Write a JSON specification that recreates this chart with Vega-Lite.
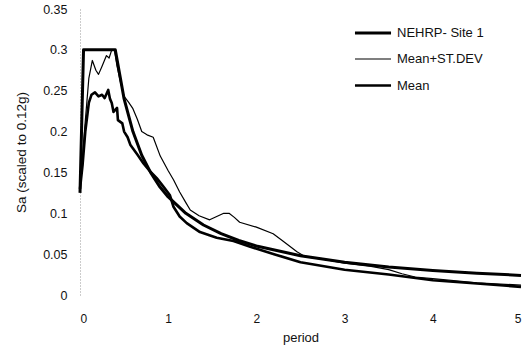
{
  "$schema": "https://vega.github.io/schema/vega-lite/v6.json",
  "width": 441,
  "height": 286,
  "autosize": "none",
  "padding": {"left": 80, "top": 9, "right": 5, "bottom": 56},
  "background": "white",
  "config": {
    "view": {"stroke": null},
    "font": "Liberation Sans",
    "axis": {"labelFont": "Liberation Sans", "titleFont": "Liberation Sans", "labelColor": "#111", "titleColor": "#111", "titleFontWeight": "normal", "grid": false, "ticks": false}
  },
  "data": {"values": [
    {"s": "NEHRP- Site 1", "T": 0, "Sa": 0.125},
    {"s": "NEHRP- Site 1", "T": 0.04, "Sa": 0.3},
    {"s": "NEHRP- Site 1", "T": 0.4, "Sa": 0.3},
    {"s": "NEHRP- Site 1", "T": 0.5, "Sa": 0.24},
    {"s": "NEHRP- Site 1", "T": 0.6, "Sa": 0.2},
    {"s": "NEHRP- Site 1", "T": 0.7, "Sa": 0.171},
    {"s": "NEHRP- Site 1", "T": 0.8, "Sa": 0.15},
    {"s": "NEHRP- Site 1", "T": 0.9, "Sa": 0.133},
    {"s": "NEHRP- Site 1", "T": 1.0, "Sa": 0.12},
    {"s": "NEHRP- Site 1", "T": 1.2, "Sa": 0.1},
    {"s": "NEHRP- Site 1", "T": 1.4, "Sa": 0.0857},
    {"s": "NEHRP- Site 1", "T": 1.6, "Sa": 0.075},
    {"s": "NEHRP- Site 1", "T": 1.8, "Sa": 0.0667},
    {"s": "NEHRP- Site 1", "T": 2.0, "Sa": 0.06},
    {"s": "NEHRP- Site 1", "T": 2.5, "Sa": 0.048},
    {"s": "NEHRP- Site 1", "T": 3.0, "Sa": 0.04},
    {"s": "NEHRP- Site 1", "T": 3.5, "Sa": 0.0343},
    {"s": "NEHRP- Site 1", "T": 4.0, "Sa": 0.03},
    {"s": "NEHRP- Site 1", "T": 4.5, "Sa": 0.0267},
    {"s": "NEHRP- Site 1", "T": 5.0, "Sa": 0.024},

    {"s": "Mean+ST.DEV", "T": 0, "Sa": 0.13},
    {"s": "Mean+ST.DEV", "T": 0.05, "Sa": 0.2},
    {"s": "Mean+ST.DEV", "T": 0.1, "Sa": 0.265},
    {"s": "Mean+ST.DEV", "T": 0.14, "Sa": 0.287},
    {"s": "Mean+ST.DEV", "T": 0.18, "Sa": 0.275},
    {"s": "Mean+ST.DEV", "T": 0.21, "Sa": 0.27},
    {"s": "Mean+ST.DEV", "T": 0.25, "Sa": 0.28},
    {"s": "Mean+ST.DEV", "T": 0.3, "Sa": 0.293},
    {"s": "Mean+ST.DEV", "T": 0.33, "Sa": 0.29},
    {"s": "Mean+ST.DEV", "T": 0.36, "Sa": 0.3},
    {"s": "Mean+ST.DEV", "T": 0.39, "Sa": 0.3},
    {"s": "Mean+ST.DEV", "T": 0.42, "Sa": 0.28},
    {"s": "Mean+ST.DEV", "T": 0.46, "Sa": 0.26},
    {"s": "Mean+ST.DEV", "T": 0.5, "Sa": 0.243},
    {"s": "Mean+ST.DEV", "T": 0.55, "Sa": 0.236},
    {"s": "Mean+ST.DEV", "T": 0.6, "Sa": 0.228},
    {"s": "Mean+ST.DEV", "T": 0.65, "Sa": 0.215},
    {"s": "Mean+ST.DEV", "T": 0.7, "Sa": 0.2},
    {"s": "Mean+ST.DEV", "T": 0.76, "Sa": 0.196},
    {"s": "Mean+ST.DEV", "T": 0.83, "Sa": 0.193},
    {"s": "Mean+ST.DEV", "T": 0.91, "Sa": 0.17},
    {"s": "Mean+ST.DEV", "T": 1.0, "Sa": 0.152},
    {"s": "Mean+ST.DEV", "T": 1.06, "Sa": 0.141},
    {"s": "Mean+ST.DEV", "T": 1.13, "Sa": 0.126},
    {"s": "Mean+ST.DEV", "T": 1.2, "Sa": 0.113},
    {"s": "Mean+ST.DEV", "T": 1.25, "Sa": 0.104},
    {"s": "Mean+ST.DEV", "T": 1.35, "Sa": 0.097},
    {"s": "Mean+ST.DEV", "T": 1.47, "Sa": 0.092},
    {"s": "Mean+ST.DEV", "T": 1.55, "Sa": 0.096},
    {"s": "Mean+ST.DEV", "T": 1.63, "Sa": 0.1},
    {"s": "Mean+ST.DEV", "T": 1.69, "Sa": 0.1},
    {"s": "Mean+ST.DEV", "T": 1.75, "Sa": 0.095},
    {"s": "Mean+ST.DEV", "T": 1.81, "Sa": 0.089},
    {"s": "Mean+ST.DEV", "T": 2.0, "Sa": 0.083},
    {"s": "Mean+ST.DEV", "T": 2.19, "Sa": 0.075},
    {"s": "Mean+ST.DEV", "T": 2.3, "Sa": 0.066},
    {"s": "Mean+ST.DEV", "T": 2.46, "Sa": 0.053},
    {"s": "Mean+ST.DEV", "T": 2.55, "Sa": 0.047},
    {"s": "Mean+ST.DEV", "T": 2.8, "Sa": 0.043},
    {"s": "Mean+ST.DEV", "T": 3.0, "Sa": 0.039},
    {"s": "Mean+ST.DEV", "T": 3.3, "Sa": 0.035},
    {"s": "Mean+ST.DEV", "T": 3.5, "Sa": 0.031},
    {"s": "Mean+ST.DEV", "T": 3.65, "Sa": 0.026},
    {"s": "Mean+ST.DEV", "T": 3.8, "Sa": 0.022},
    {"s": "Mean+ST.DEV", "T": 4.0, "Sa": 0.02},
    {"s": "Mean+ST.DEV", "T": 4.5, "Sa": 0.015},
    {"s": "Mean+ST.DEV", "T": 5.0, "Sa": 0.012},

    {"s": "Mean", "T": 0, "Sa": 0.13},
    {"s": "Mean", "T": 0.03, "Sa": 0.16},
    {"s": "Mean", "T": 0.06, "Sa": 0.2},
    {"s": "Mean", "T": 0.1, "Sa": 0.235},
    {"s": "Mean", "T": 0.13, "Sa": 0.245},
    {"s": "Mean", "T": 0.17, "Sa": 0.248},
    {"s": "Mean", "T": 0.21, "Sa": 0.243},
    {"s": "Mean", "T": 0.25, "Sa": 0.245},
    {"s": "Mean", "T": 0.28, "Sa": 0.241},
    {"s": "Mean", "T": 0.32, "Sa": 0.251},
    {"s": "Mean", "T": 0.34, "Sa": 0.24},
    {"s": "Mean", "T": 0.36, "Sa": 0.235},
    {"s": "Mean", "T": 0.38, "Sa": 0.224},
    {"s": "Mean", "T": 0.42, "Sa": 0.229},
    {"s": "Mean", "T": 0.43, "Sa": 0.214},
    {"s": "Mean", "T": 0.48, "Sa": 0.21},
    {"s": "Mean", "T": 0.5, "Sa": 0.2},
    {"s": "Mean", "T": 0.54, "Sa": 0.193},
    {"s": "Mean", "T": 0.57, "Sa": 0.184},
    {"s": "Mean", "T": 0.65, "Sa": 0.172},
    {"s": "Mean", "T": 0.72, "Sa": 0.161},
    {"s": "Mean", "T": 0.79, "Sa": 0.152},
    {"s": "Mean", "T": 0.87, "Sa": 0.143},
    {"s": "Mean", "T": 0.95, "Sa": 0.132},
    {"s": "Mean", "T": 1.02, "Sa": 0.122},
    {"s": "Mean", "T": 1.06, "Sa": 0.108},
    {"s": "Mean", "T": 1.13, "Sa": 0.096},
    {"s": "Mean", "T": 1.21, "Sa": 0.088},
    {"s": "Mean", "T": 1.36, "Sa": 0.077},
    {"s": "Mean", "T": 1.55, "Sa": 0.07},
    {"s": "Mean", "T": 1.74, "Sa": 0.066},
    {"s": "Mean", "T": 1.93, "Sa": 0.059},
    {"s": "Mean", "T": 2.2, "Sa": 0.05},
    {"s": "Mean", "T": 2.5, "Sa": 0.04},
    {"s": "Mean", "T": 3.0, "Sa": 0.031},
    {"s": "Mean", "T": 3.5, "Sa": 0.025},
    {"s": "Mean", "T": 4.0, "Sa": 0.018},
    {"s": "Mean", "T": 4.5, "Sa": 0.014},
    {"s": "Mean", "T": 5.0, "Sa": 0.01}
  ]},
  "mark": {"type": "line", "color": "#000", "strokeCap": "butt", "strokeJoin": "round"},
  "encoding": {
    "x": {"field": "T", "type": "quantitative", "scale": {"domain": [0, 5], "nice": false},
      "axis": {"title": "period", "values": [0, 1, 2, 3, 4, 5], "domain": false, "labelFontSize": 12, "labelPadding": 18, "titleFontSize": 13, "titlePadding": 7}},
    "y": {"field": "Sa", "type": "quantitative", "scale": {"domain": [0, 0.35], "nice": false},
      "axis": {"title": "Sa (scaled to 0.12g)", "values": [0, 0.05, 0.1, 0.15, 0.2, 0.25, 0.3, 0.35], "labelExpr": "datum.value + ''", "domainColor": "#999", "domainDash": [1, 2], "domainWidth": 1, "labelFontSize": 12.5, "labelPadding": 13, "titleFontSize": 13.5, "titlePadding": 14}},
    "strokeWidth": {"field": "s", "type": "nominal",
      "scale": {"type": "ordinal", "domain": ["NEHRP- Site 1", "Mean+ST.DEV", "Mean"], "range": [3, 1.2, 2.6]},
      "legend": {"title": null, "orient": "none", "legendX": 273, "legendY": 4, "symbolType": "stroke", "symbolStrokeColor": "#000", "symbolSize": 1300, "labelFontSize": 13, "labelColor": "#111", "labelOffset": 4, "rowPadding": 0}},
    "order": {"field": "T", "type": "quantitative"}
  }
}
